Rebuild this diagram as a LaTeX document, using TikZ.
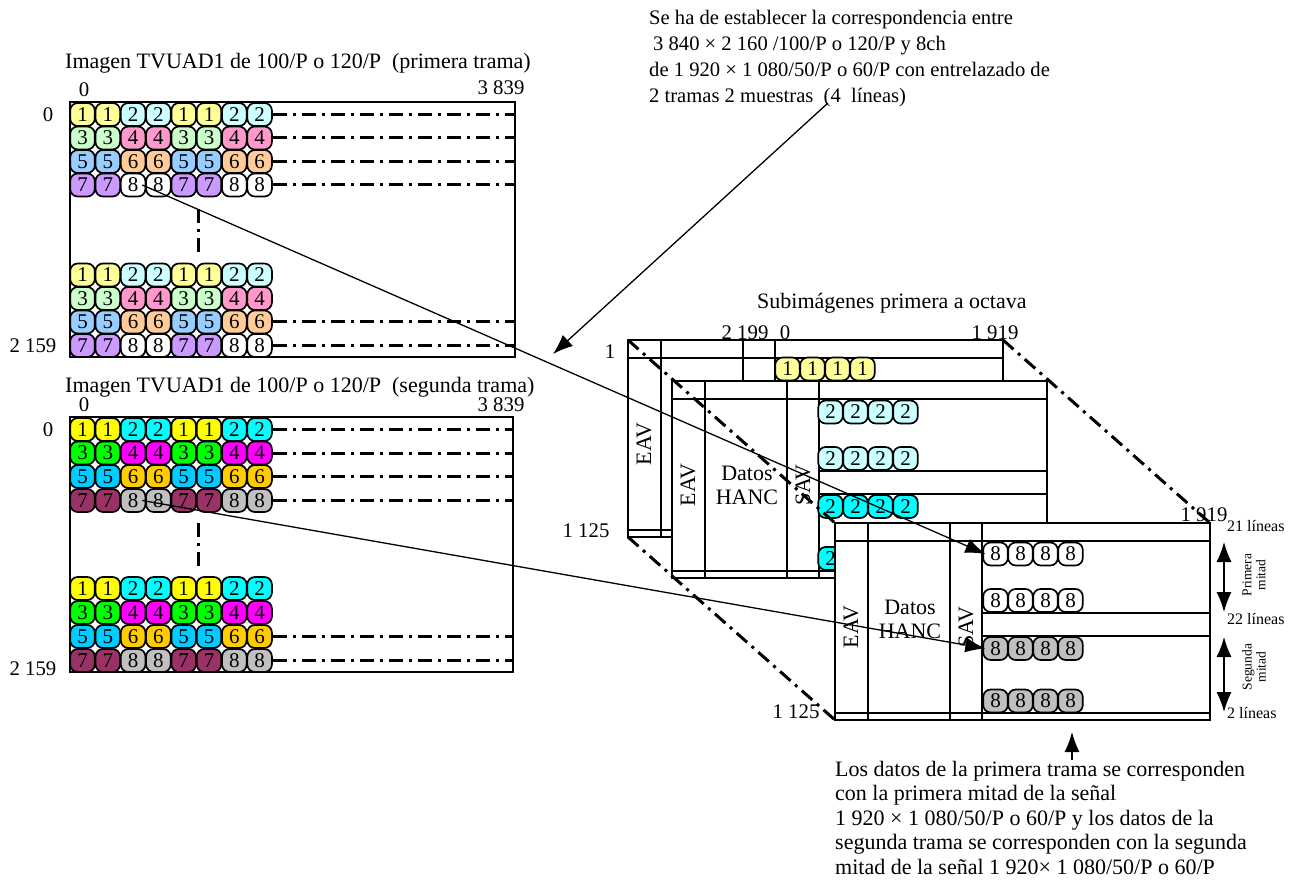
\documentclass[tikz,border=0pt]{standalone}
\usepackage{fontspec}
\setmainfont{Liberation Serif}
\usepackage{tikz}
\usetikzlibrary{arrows.meta}

\definecolor{cl1}{HTML}{FFFF99}
\definecolor{cl2}{HTML}{CCFFFF}
\definecolor{cl3}{HTML}{CCFFCC}
\definecolor{cl4}{HTML}{FF99CC}
\definecolor{cl5}{HTML}{99CCFF}
\definecolor{cl6}{HTML}{FFCC99}
\definecolor{cl7}{HTML}{CC99FF}
\definecolor{cl8}{HTML}{FFFFFF}
\definecolor{cs1}{HTML}{FFFF00}
\definecolor{cs2}{HTML}{00FFFF}
\definecolor{cs3}{HTML}{00FF00}
\definecolor{cs4}{HTML}{FF00FF}
\definecolor{cs5}{HTML}{00CCFF}
\definecolor{cs6}{HTML}{FFCC00}
\definecolor{cs7}{HTML}{993366}
\definecolor{cs8}{HTML}{C0C0C0}

\tikzset{
  texto/.style={font=\fontsize{20.8}{24.6}\selectfont,inner sep=0pt},
  titulo/.style={font=\fontsize{22}{24}\selectfont,inner sep=0pt,anchor=west},
  textito/.style={font=\fontsize{13.5}{14}\selectfont,inner sep=0pt,align=center,rotate=90},
  lineas/.style={font=\fontsize{16}{16}\selectfont,inner sep=0pt,anchor=west},
  celda/.style={draw,line width=1.7pt,rounded corners=7.5pt,minimum width=24.6pt,minimum height=23pt,
    inner sep=0pt,font=\fontsize{21}{21}\selectfont},
  marco/.style={draw,line width=1.5pt,inner sep=0pt},
  linea/.style={line width=1.5pt},
  puntos/.style={line width=3pt,dash pattern=on 14pt off 6pt on 3pt off 6pt},
  flecha/.style={line width=1.3pt,-{Latex[length=20pt,width=15pt]}},
  doble/.style={line width=1.3pt,{Latex[length=20pt,width=15pt]}-{Latex[length=20pt,width=15pt]}}
}

% fila de ocho muestras
\newcommand{\fila}[5]{
  \foreach \i/\n in {0/#3,1/#3,2/#4,3/#4,4/#3,5/#3,6/#4,7/#4}
    \node[celda,fill=#5\n] (#1-\i) at (82.5+25.3*\i,#2) {\n};
}
% fila de cuatro muestras
\newcommand{\subfila}[5]{
  \foreach \i in {0,1,2,3}
    \node[celda,fill=#5] (#1-\i) at (#2+25*\i,#3) {#4};
}
% subimagen
\newcommand{\subimagen}[4]{
  \begin{scope}[shift={(#2,#3)}]
    \coordinate (#1nw) at (0,0);
    \coordinate (#1ne) at (375,0);
    \coordinate (#1sw) at (0,197);
    \filldraw[linea,fill=white] (0,0) rectangle (375,197);
    \draw[linea] (0,18) -- (375,18);
    \draw[linea] (0,190) -- (375,190);
    \foreach \x in {33,115,147}
      \draw[linea] (\x,0) -- (\x,197);
    \draw[linea] (147,90) -- (375,90);
    \draw[linea] (147,113) -- (375,113);
    \node[texto,rotate=90,font=\fontsize{22}{24}\selectfont] (#1eav) at (16,104) {EAV};
    \node[texto,align=center,font=\fontsize{22}{24}\selectfont] (#1datos) at (75,#4) {Datos\\HANC};
    \node[texto,rotate=90,font=\fontsize{22}{24}\selectfont] (#1sav) at (131,104) {SAV};
  \end{scope}
}

\begin{document}
\begin{tikzpicture}[x=1pt,y=-1pt]
\useasboundingbox (0,0) rectangle (1295,882);

% primera trama
\node[titulo] (tit1) at (65,63) {Imagen TVUAD1 de 100/P o 120/P\ \ (primera trama)};
\node[texto] (cero1) at (84,90) {0};
\node[texto] (fin1) at (501,88) {3 839};
\node[texto] (lin1) at (48,115) {0};
\node[texto] (lin2) at (33,346) {2 159};
\node[marco,minimum width=445pt,minimum height=255pt] (ima) at (292.5,229.5) {};
\fila{pa}{114.5}{1}{2}{cl}
\fila{pb}{138}{3}{4}{cl}
\fila{pc}{161.5}{5}{6}{cl}
\fila{pd}{185}{7}{8}{cl}
\fila{pe}{275}{1}{2}{cl}
\fila{pf}{298.5}{3}{4}{cl}
\fila{pg}{322}{5}{6}{cl}
\fila{ph}{345.5}{7}{8}{cl}
\foreach \f in {pa,pb,pc,pd,pg,ph}
  \draw[puntos] (\f-7.east) -- (\f-7.east -| ima.east);
\coordinate (va) at (198,209);
\coordinate (vb) at (198,258);
\draw[puntos] (va) -- (vb);

% segunda trama
\node[titulo] (tit2) at (65,387) {Imagen TVUAD1 de 100/P o 120/P\ \ (segunda trama)};
\node[texto] (cero2) at (84,405) {0};
\node[texto] (fin2) at (501,405) {3 839};
\node[texto] (lin3) at (48,430) {0};
\node[texto] (lin4) at (33,669) {2 159};
\node[marco,minimum width=443pt,minimum height=255pt] (imb) at (291.5,544.5) {};
\fila{sa}{429.5}{1}{2}{cs}
\fila{sb}{453}{3}{4}{cs}
\fila{sc}{476.5}{5}{6}{cs}
\fila{sd}{500.5}{7}{8}{cs}
\fila{se}{588.5}{1}{2}{cs}
\fila{sf}{612.5}{3}{4}{cs}
\fila{sg}{636.5}{5}{6}{cs}
\fila{sh}{660.5}{7}{8}{cs}
\foreach \f in {sa,sb,sc,sd,sg,sh}
  \draw[puntos] (\f-7.east) -- (\f-7.east -| imb.east);
\coordinate (vc) at (198,523);
\coordinate (vd) at (198,572);
\draw[puntos] (vc) -- (vd);

% subimagenes
\node[titulo] (tit3) at (757,303) {Subimágenes primera a octava};
\node[texto] (n1) at (610,352) {1};
\node[texto] (n2199) at (745,333) {2 199};
\node[texto] (n0) at (785,333) {0};
\node[texto] (n1919) at (995,333) {1 919};
\node[texto] (n1125) at (586,531) {1 125};
\subimagen{ua}{628}{340}{104}
\subfila{ca}{787.5}{369}{1}{cl1}
\subimagen{ub}{672}{381}{104}
\subfila{cb}{830.5}{412}{2}{cl2}
\subfila{cc}{830.5}{458.5}{2}{cl2}
\subfila{cd}{830.5}{506.5}{2}{cs2}
\subfila{ce}{830.5}{558.5}{2}{cs2}
\coordinate (ucnw) at (835,523);
\draw[puntos] (uanw) -- (ucnw);
\subimagen{uc}{835}{523}{96}
\subfila{oa}{995.5}{554}{8}{cl8}
\subfila{ob}{995.5}{600.5}{8}{cl8}
\subfila{oc}{995.5}{648.5}{8}{cs8}
\subfila{od}{995.5}{701}{8}{cs8}
\draw[puntos] (uasw) -- (ucsw);
\draw[puntos] (uane) -- (ucne);
\node[texto] (n1919b) at (1204,515) {1 919};
\node[texto] (n1125b) at (796,712) {1 125};

% mitades
\node[lineas] (l21) at (1227,526) {21 líneas};
\node[lineas] (l22) at (1227,619) {22 líneas};
\node[lineas] (l2) at (1227,713) {2 líneas};
\coordinate (ma) at (1224,542);
\coordinate (mb) at (1224,612);
\coordinate (mc) at (1224,637);
\coordinate (md) at (1224,712);
\draw[doble] (ma) -- (mb);
\draw[doble] (mc) -- (md);
\node[textito] (pri) at (1254,575) {Primera\\mitad};
\node[textito] (seg) at (1254,667) {Segunda\\mitad};

% notas
\node[texto,anchor=north west,align=left,font=\fontsize{20.6}{26}\selectfont] (notaa) at (649,10)
  {Se ha de establecer la correspondencia entre\\
   \hspace*{4pt}3 840 × 2 160 /100/P o 120/P y 8ch\\
   de 1 920 × 1 080/50/P o 60/P con entrelazado de\\
   2 tramas 2 muestras\ \ (4\ \ líneas)};
\node[texto,anchor=north west,align=left,font=\fontsize{22}{24.4}\selectfont] (notab) at (835,761)
  {Los datos de la primera trama se corresponden\\
   con la primera mitad de la señal\\
   1 920 × 1 080/50/P o 60/P y los datos de la\\
   segunda trama se corresponden con la segunda\\
   mitad de la señal 1 920× 1 080/50/P o 60/P};

% flechas
\coordinate (fa) at (828,103);
\coordinate (fb) at (553,354);
\coordinate (fc) at (1072,760);
\coordinate (fd) at (1072,732);
\draw[flecha] (fa) -- (fb);
\draw[flecha] (fc) -- (fd);
\draw[flecha] ([xshift=-4pt]pd-2.east) -- ([xshift=3pt]oa-0.west);
\draw[flecha] ([xshift=-4pt]sd-2.east) -- ([xshift=3pt]oc-0.west);
\end{tikzpicture}
\end{document}
